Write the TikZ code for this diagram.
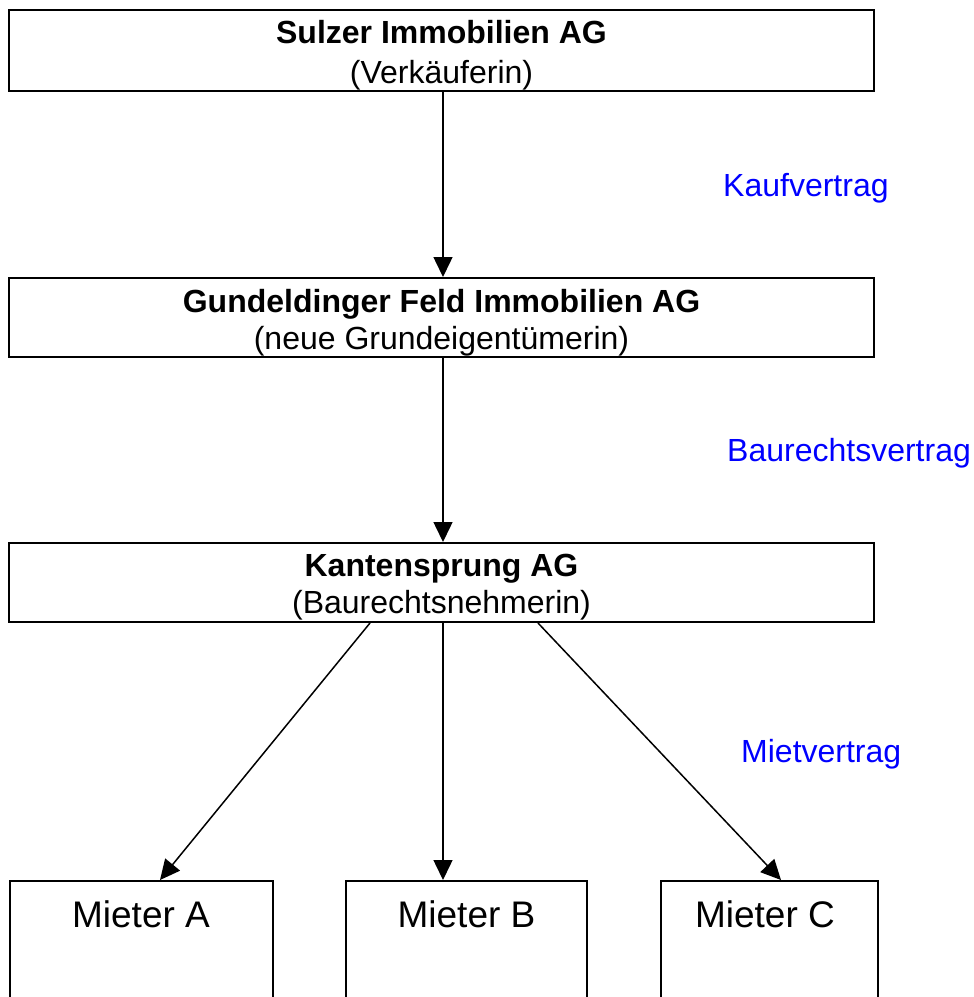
\documentclass[tikz,border=0pt]{standalone}
\usepackage{fontspec}
\setmainfont{Liberation Sans}
\usetikzlibrary{arrows.meta}
\begin{document}
\begin{tikzpicture}[x=1pt,y=-1pt,
  box/.style={draw=black,line width=2pt,rectangle,inner sep=0pt},
  tbold/.style={font=\fontsize{32}{38}\selectfont\bfseries,anchor=base,inner sep=0pt},
  tnorm/.style={font=\fontsize{32}{38}\selectfont,anchor=base,inner sep=0pt},
  tmieter/.style={font=\fontsize{37}{44}\selectfont,anchor=base,inner sep=0pt},
  lbl/.style={font=\fontsize{32}{38}\selectfont,text=blue,anchor=base west,inner sep=0pt},
  conn/.style={line width=1.5pt,-{Triangle[length=20pt,width=19pt]}}]
\useasboundingbox (0,0) rectangle (974,997);
\clip (0,0) rectangle (974,997);
% boxes
\node[box,minimum width=865pt,minimum height=81pt] (s) at (441.5,50.5) {};
\node[box,minimum width=865pt,minimum height=79pt] (g) at (441.5,317.5) {};
\node[box,minimum width=865pt,minimum height=79pt] (k) at (441.5,582.5) {};
\node[box,minimum width=263pt,minimum height=160pt] (ma) at (141,961) {};
\node[box,minimum width=241pt,minimum height=160pt] (mb) at (466.5,961) {};
\node[box,minimum width=217pt,minimum height=160pt] (mc) at (769.5,961) {};
% texts
\node[tbold] (s1) at (441.5,43) {Sulzer Immobilien AG};
\node[tnorm] (s2) at (441.5,83) {(Verkäuferin)};
\node[tbold] (g1) at (441.5,312) {Gundeldinger Feld Immobilien AG};
\node[tnorm] (g2) at (441.5,349) {(neue Grundeigentümerin)};
\node[tbold] (k1) at (441.5,576) {Kantensprung AG};
\node[tnorm] (k2) at (441.5,613) {(Baurechtsnehmerin)};
\node[tmieter] (ta) at (141,927) {Mieter A};
\node[tmieter] (tb) at (466.5,927) {Mieter B};
\node[tmieter] (tc) at (765,927) {Mieter C};
% labels
\node[lbl] (l1) at (723,196) {Kaufvertrag};
\node[lbl] (l2) at (727,461) {Baurechtsvertrag};
\node[lbl] (l3) at (741,762) {Mietvertrag};
% connector endpoints
\coordinate (s-o) at ([xshift=1.5pt]s.south);
\coordinate (g-i) at ([xshift=1.5pt]g.north);
\coordinate (g-o) at ([xshift=1.5pt]g.south);
\coordinate (k-i) at ([xshift=1.5pt]k.north);
\coordinate (k-a) at ([xshift=-71.5pt]k.south);
\coordinate (k-b) at ([xshift=1.5pt]k.south);
\coordinate (k-c) at ([xshift=96.5pt]k.south);
\coordinate (ma-i) at ([xshift=19pt]ma.north);
\coordinate (mb-i) at ([xshift=-23.5pt]mb.north);
\coordinate (mc-i) at ([xshift=11.5pt]mc.north);
\draw[conn] (s-o) -- (g-i);
\draw[conn] (g-o) -- (k-i);
\draw[conn] (k-a) -- (ma-i);
\draw[conn] (k-b) -- (mb-i);
\draw[conn] (k-c) -- (mc-i);
\end{tikzpicture}
\end{document}
